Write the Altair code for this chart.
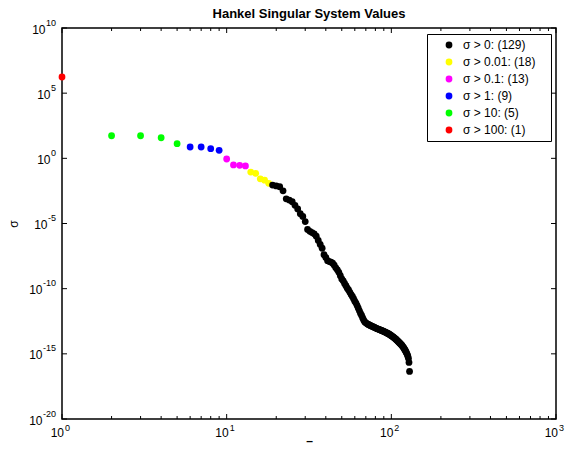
import altair as alt
import pandas as pd

# ---- data ----
legend_labels = ["σ > 0: (129)", "σ > 0.01: (18)", "σ > 0.1: (13)",
                 "σ > 1: (9)", "σ > 10: (5)", "σ > 100: (1)"]
legend_colors = ["#000000", "#ffff00", "#ff00ff", "#0000ff", "#00ff00", "#ff0000"]

red_vals = [1.74e6]
green_vals = [54, 54, 38, 13.2]
blue_vals = [7.4, 7.4, 5.5, 4.1]
magenta_vals = [0.89, 0.31, 0.29, 0.26]
yellow_vals = [0.089, 0.071, 0.027, 0.021, 0.012]
black_vals = [
    8.9e-3, 7.6e-3, 6.6e-3, 3.2e-3, 7.9e-4, 6.3e-4, 4.7e-4, 2.5e-4, 1.3e-4, 5.6e-5,
    3.5e-5, 1.4e-5, 3.5e-6, 2.5e-6, 2.0e-6, 1.6e-6, 1.05e-6, 5.0e-7, 2.5e-7, 1.26e-7,
    4.0e-8, 2.5e-8, 1.4e-8, 1.2e-8, 1.1e-8, 8.9e-9, 6.3e-9, 4.0e-9, 2.8e-9, 1.8e-9,
    1.0e-9, 5.6e-10, 4.0e-10, 2.5e-10, 1.7e-10, 1.1e-10, 7.9e-11, 5.2e-11, 3.5e-11, 2.5e-11,
    1.7e-11, 1.1e-11, 7.9e-12, 5.0e-12, 3.2e-12, 2.0e-12, 1.26e-12, 8.9e-13, 5.6e-13, 3.8e-13,
    2.8e-13, 2.4e-13, 2.1e-13, 1.86e-13, 1.7e-13, 1.58e-13, 1.45e-13, 1.32e-13, 1.23e-13, 1.15e-13,
    1.07e-13, 1.0e-13, 9.1e-14, 8.5e-14, 7.9e-14, 7.6e-14, 7.1e-14, 6.6e-14, 6.3e-14, 5.9e-14,
    5.6e-14, 5.2e-14, 4.9e-14, 4.6e-14, 4.3e-14, 4.0e-14, 3.7e-14, 3.5e-14, 3.2e-14, 2.95e-14,
    2.7e-14, 2.45e-14, 2.2e-14, 2.1e-14, 1.9e-14, 1.7e-14, 1.55e-14, 1.4e-14, 1.26e-14, 1.12e-14,
    1.0e-14, 8.9e-15, 7.9e-15, 7.1e-15, 6.3e-15, 5.6e-15, 5.0e-15, 4.4e-15, 3.8e-15, 3.3e-15,
    2.8e-15, 2.4e-15, 2.0e-15, 1.66e-15, 1.35e-15, 1.1e-15, 8.7e-16, 6.6e-16, 4.5e-16, 2.2e-16,
    4.5e-17,
]

x_major = [1, 10, 100, 1000]
x_exponents = ["0", "1", "2", "3"]
x_minor = [2, 3, 4, 5, 6, 7, 8, 9, 20, 30, 40, 50, 60, 70, 80, 90,
           200, 300, 400, 500, 600, 700, 800, 900]
y_major = [1e-20, 1e-15, 1e-10, 1e-5, 1, 1e5, 1e10]
y_exponents = ["-20", "-15", "-10", "-5", "0", "5", "10"]

# ---- build table ----
groups = [(legend_labels[5], red_vals), (legend_labels[4], green_vals),
          (legend_labels[3], blue_vals), (legend_labels[2], magenta_vals),
          (legend_labels[1], yellow_vals), (legend_labels[0], black_vals)]
rows = []
n = 1
for lab, vals in groups:
    for v in vals:
        rows.append({"n": n, "s": v, "g": lab})
        n += 1
df = pd.DataFrame(rows)

W, H = 494, 391
FONT = "Liberation Sans"

xscale = alt.Scale(type="log", domain=[1, 1000], nice=False)
yscale = alt.Scale(type="log", domain=[1e-20, 1e10], nice=False)

points = alt.Chart(df).mark_point(filled=True, size=46, opacity=1).encode(
    x=alt.X("n:Q", scale=xscale,
            axis=alt.Axis(labels=False, ticks=False, domain=False, grid=False,
                          title="–", titleFont=FONT, titleFontSize=12,
                          titleFontWeight="bold", titlePadding=16, titleColor="#000")),
    y=alt.Y("s:Q", scale=yscale,
            axis=alt.Axis(labels=False, ticks=False, domain=False, grid=False,
                          title="σ", titleFont=FONT, titleFontSize=12,
                          titleFontWeight="normal", titlePadding=42, titleColor="#000")),
    color=alt.Color("g:N", scale=alt.Scale(domain=legend_labels, range=legend_colors),
                    legend=alt.Legend(title=None, orient="none", legendX=365, legendY=6,
                                      padding=5, symbolOffset=11, labelOffset=8,
                                      labelExpr="datum.label + '\u00a0\u00a0\u00a0\u200b'",
                                      strokeColor="#000", fillColor="#fff",
                                      symbolType="circle", symbolSize=46,
                                      symbolStrokeWidth=0,
                                      labelFont=FONT, labelFontSize=12, labelColor="#000",
                                      rowPadding=5, cornerRadius=0)),
)

xmaj = pd.DataFrame({"v": x_major, "e": x_exponents})
xmin = pd.DataFrame({"v": x_minor})
ymaj = pd.DataFrame({"v": y_major, "e": y_exponents})

def xrule(d, y1, y2):
    return alt.Chart(d).mark_rule(color="#000", strokeWidth=1).encode(
        x=alt.X("v:Q", scale=xscale), y=alt.value(y1), y2=alt.value(y2))

def yrule(d, x1, x2):
    return alt.Chart(d).mark_rule(color="#000", strokeWidth=1).encode(
        y=alt.Y("v:Q", scale=yscale), x=alt.value(x1), x2=alt.value(x2))

ticks = [
    xrule(xmaj, H, H - 5), xrule(xmaj, 0, 5),
    xrule(xmin, H, H - 3), xrule(xmin, 0, 3),
    yrule(ymaj, 0, 5), yrule(ymaj, W, W - 5),
]

# tick labels: "10" with a raised exponent
exp_w = "(length(replace(datum.e,'-',''))*5.0 + (indexof(datum.e,'-')>=0 ? 3.0 : 0) + 0.5)"
y_exp = alt.Chart(ymaj).mark_text(align="right", baseline="alphabetic", dy=-2.5,
                                  font=FONT, fontSize=9, color="#000").encode(
    y=alt.Y("v:Q", scale=yscale), x=alt.value(-6), text="e:N")
y_ten = alt.Chart(ymaj).mark_text(align="right", baseline="middle", dy=1.5,
                                  dx=alt.expr("-" + exp_w),
                                  font=FONT, fontSize=12, color="#000").encode(
    y=alt.Y("v:Q", scale=yscale), x=alt.value(-6), text=alt.value("10"))
x_ten = alt.Chart(xmaj).mark_text(align="right", baseline="alphabetic", dx=2, dy=18,
                                  font=FONT, fontSize=12, color="#000").encode(
    x=alt.X("v:Q", scale=xscale), y=alt.value(H), text=alt.value("10"))
x_exp = alt.Chart(xmaj).mark_text(align="left", baseline="alphabetic", dx=3, dy=12,
                                  font=FONT, fontSize=9, color="#000").encode(
    x=alt.X("v:Q", scale=xscale), y=alt.value(H), text="e:N")

chart = alt.layer(*ticks, y_exp, y_ten, x_ten, x_exp, points).properties(
    width=W, height=H,
    title=alt.Title("Hankel Singular System Values", font=FONT, fontSize=13,
                    fontWeight="bold", color="#000", offset=-2, anchor="middle"),
    autosize=alt.AutoSizeParams(type="none"),
    padding={"left": 54, "top": 20, "right": 11, "bottom": 27},
).configure_view(stroke="#000", strokeWidth=1.5)

chart.save("out.html", embed_options={"renderer": "svg", "actions": False})
